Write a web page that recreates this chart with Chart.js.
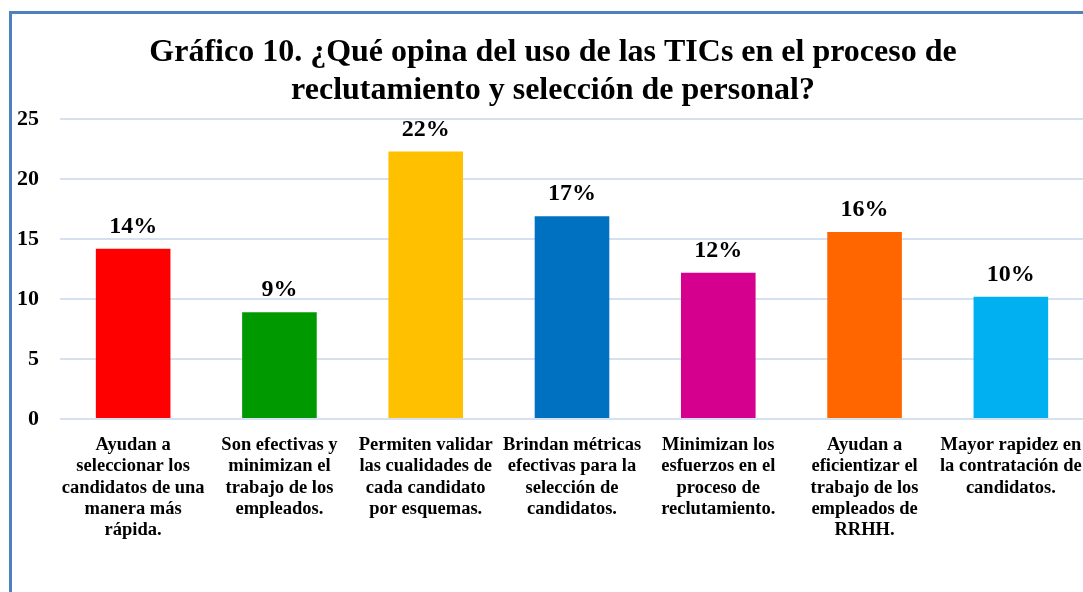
<!DOCTYPE html>
<html>
<head>
<meta charset="utf-8">
<script src="https://cdn.jsdelivr.net/npm/chart.js@4"></script>
<style>
  html, body { margin: 0; padding: 0; background: #fff; overflow: hidden; width: 1083px; height: 592px; }
  #frame { position: absolute; left: 9px; top: 11px; width: 1200px; height: 700px;
           border-left: 3px solid #4F81BD; border-top: 3px solid #4F81BD; }
  #chart { position: absolute; left: 13px; top: 14px; }
</style>
</head>
<body>
<div id="frame"></div>
<canvas id="chart" width="1080" height="578"></canvas>
<script>
// Chart data
const categories = [
  ['Ayudan a', 'seleccionar los', 'candidatos de una', 'manera más', 'rápida.'],
  ['Son efectivas y', 'minimizan el', 'trabajo de los', 'empleados.'],
  ['Permiten validar', 'las cualidades de', 'cada candidato', 'por esquemas.'],
  ['Brindan métricas', 'efectivas para la', 'selección de', 'candidatos.'],
  ['Minimizan los', 'esfuerzos en el', 'proceso de', 'reclutamiento.'],
  ['Ayudan a', 'eficientizar el', 'trabajo de los', 'empleados de', 'RRHH.'],
  ['Mayor rapidez en', 'la contratación de', 'candidatos.']
];
const values = [14.2, 8.9, 22.3, 16.9, 12.2, 15.6, 10.2];
const barColors = ['#FF0000', '#009A00', '#FFC000', '#0070C0', '#D6008F', '#FF6600', '#00B0F0'];
const yTicks = [0, 5, 10, 15, 20, 25];

const serif = "'Liberation Serif', 'Times New Roman', serif";

// draw the percentage on top of each bar
const valueLabels = {
  id: 'valueLabels',
  afterDatasetsDraw(chart) {
    const ctx = chart.ctx;
    const meta = chart.getDatasetMeta(0);
    ctx.save();
    ctx.font = `bold 24px ${serif}`;
    ctx.fillStyle = '#000';
    ctx.textAlign = 'center';
    ctx.textBaseline = 'alphabetic';
    meta.data.forEach((bar, i) => {
      ctx.fillText(Math.round(values[i]) + '%', bar.x, bar.y - 16);
    });
    ctx.restore();
  }
};

new Chart(document.getElementById('chart'), {
  type: 'bar',
  data: {
    labels: categories,
    datasets: [{
      data: values,
      backgroundColor: barColors,
      borderWidth: 0,
      barPercentage: 0.51,
      categoryPercentage: 1
    }]
  },
  options: {
    responsive: false,
    animation: false,
    layout: { padding: 0 },
    plugins: {
      legend: { display: false },
      tooltip: { enabled: false },
      title: {
        display: true,
        text: ['Gráfico 10. ¿Qué opina del uso de las TICs en el proceso de',
               'reclutamiento y selección de personal?'],
        color: '#000',
        font: { family: serif, size: 32, weight: 'bold', lineHeight: 1.19 },
        padding: { top: 20, bottom: 9 }
      }
    },
    scales: {
      x: {
        grid: { display: false },
        border: { display: false },
        ticks: {
          color: '#000',
          font: { family: serif, size: 18.5, weight: 'bold', lineHeight: 1.14 },
          maxRotation: 0,
          autoSkip: false,
          padding: 8
        },
        afterFit(scale) { scale.height = 173; }
      },
      y: {
        min: 0,
        max: 25,
        afterBuildTicks(scale) { scale.ticks = yTicks.map(v => ({ value: v })); },
        grid: { color: '#D5E0F0', lineWidth: 2, drawTicks: false },
        border: { display: false },
        ticks: {
          color: '#000',
          font: { family: serif, size: 22, weight: 'bold' },
          padding: 21
        },
        afterFit(scale) { scale.width = 47; }
      },
      // empty right-hand spacer so the title stays centred on the frame
      yRight: {
        position: 'right',
        min: 0,
        max: 25,
        grid: { display: false },
        border: { display: false },
        ticks: { display: false },
        afterFit(scale) { scale.width = 9; }
      }
    }
  },
  plugins: [valueLabels]
});
</script>
</body>
</html>
